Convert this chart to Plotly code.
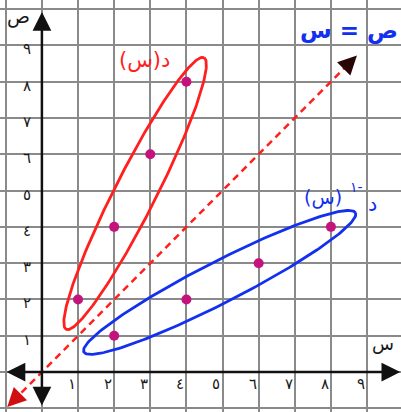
import numpy as np
import plotly.graph_objects as go

# Function d(x) and its inverse
f_x = [1, 2, 3, 4]
f_y = [2, 4, 6, 8]
inv_x = [2, 4, 6, 8]
inv_y = [1, 2, 3, 4]

# Axis ticks (Arabic-Indic digits)
tick_values = [1, 2, 3, 4, 5, 6, 7, 8, 9]
tick_labels = ["١", "٢", "٣", "٤", "٥", "٦", "٧", "٨", "٩"]

X_RANGE = [-1.16, 9.94]
Y_RANGE = [-1.10, 10.25]

AR_FONT = "DejaVu Sans"
RED = "#ff1f1f"
BLUE = "#1230ee"
DOT = "#c4137c"
GRID = "#8a8a8a"


def ellipse(cx, cy, a, b, deg, n=240):
    t = np.linspace(0, 2 * np.pi, n)
    th = np.radians(deg)
    u, v = a * np.cos(t), b * np.sin(t)
    return cx + u * np.cos(th) - v * np.sin(th), cy + u * np.sin(th) + v * np.cos(th)


fig = go.Figure()

# identity line y = x (dashed)
line_x = np.array([-0.8, 8.45])
fig.add_trace(go.Scatter(x=line_x, y=line_x, mode="lines",
                         line=dict(color=RED, width=2.5, dash="7px,5px"),
                         hoverinfo="skip", showlegend=False))

# enclosing ellipses
ex, ey = ellipse(2.58, 4.92, 4.2, 0.57, 63)
fig.add_trace(go.Scatter(x=ex, y=ey, mode="lines", line=dict(color=RED, width=2.8),
                         hoverinfo="skip", showlegend=False))
ex, ey = ellipse(4.92, 2.47, 4.22, 0.57, 27)
fig.add_trace(go.Scatter(x=ex, y=ey, mode="lines", line=dict(color=BLUE, width=2.8),
                         hoverinfo="skip", showlegend=False))

# points of d and d^-1
fig.add_trace(go.Scatter(x=f_x, y=f_y, mode="markers",
                         marker=dict(color=DOT, size=10), showlegend=False))
fig.add_trace(go.Scatter(x=inv_x, y=inv_y, mode="markers",
                         marker=dict(color=DOT, size=10), showlegend=False))

ann = []
# coordinate axes with arrowheads at both ends
ann.append(dict(x=9.92, y=0, ax=-1.02, ay=0, xref="x", yref="y", axref="x", ayref="y",
                text="", showarrow=True, arrowside="end+start", arrowhead=2, startarrowhead=2,
                arrowsize=1.5, startarrowsize=1.5, arrowwidth=2.5, arrowcolor="#111"))
ann.append(dict(x=0, y=9.92, ax=0, ay=-0.96, xref="x", yref="y", axref="x", ayref="y",
                text="", showarrow=True, arrowside="end+start", arrowhead=2, startarrowhead=2,
                arrowsize=1.5, startarrowsize=1.5, arrowwidth=2.5, arrowcolor="#111"))
# arrowheads of the identity line
ann.append(dict(x=8.72, y=8.72, ax=8.4, ay=8.4, xref="x", yref="y", axref="x", ayref="y",
                text="", showarrow=True, arrowhead=2, arrowsize=1.5, arrowwidth=2.5,
                arrowcolor="#2a0505"))
ann.append(dict(x=-0.96, y=-0.96, ax=-0.62, ay=-0.62, xref="x", yref="y", axref="x", ayref="y",
                text="", showarrow=True, arrowhead=2, arrowsize=1.5, arrowwidth=2.5,
                arrowcolor="#d01010"))

# tick labels
for v, lab in zip(tick_values, tick_labels):
    ann.append(dict(x=v - 0.17, y=-0.34, text=lab, showarrow=False,
                    font=dict(family=AR_FONT, size=15, color="#1a1a1a")))
    ann.append(dict(x=-0.42, y=v - 0.11, text=lab, showarrow=False,
                    font=dict(family=AR_FONT, size=15, color="#1a1a1a")))

# axis names
ann.append(dict(x=-0.66, y=9.8, text="ص", showarrow=False,
                font=dict(family=AR_FONT, size=19, color="#1a1a1a")))
ann.append(dict(x=9.45, y=0.8, text="س", showarrow=False,
                font=dict(family=AR_FONT, size=18, color="#1a1a1a")))

# curve labels
ann.append(dict(x=2.85, y=8.6, text="د(س)", showarrow=False,
                font=dict(family=AR_FONT, size=21, color=RED)))
ann.append(dict(x=8.5, y=9.4, text="<b>ص = س</b>", showarrow=False,
                font=dict(family=AR_FONT, size=23, color=BLUE)))
ann.append(dict(x=9.14, y=4.62, text="د", showarrow=False,
                font=dict(family=AR_FONT, size=21, color=BLUE)))
ann.append(dict(x=8.7, y=5.1, text="\u200f-١", showarrow=False,
                font=dict(family=AR_FONT, size=14, color=BLUE)))
ann.append(dict(x=7.78, y=4.82, text="(س)", showarrow=False,
                font=dict(family=AR_FONT, size=19, color=BLUE)))

fig.update_layout(
    width=401, height=412, margin=dict(l=0, r=0, t=0, b=0),
    paper_bgcolor="white", plot_bgcolor="white",
    annotations=ann, showlegend=False,
    xaxis=dict(range=X_RANGE, dtick=1, tick0=0, showgrid=True, gridcolor=GRID, gridwidth=1.7,
               zeroline=False, showticklabels=False, showline=False, fixedrange=True),
    yaxis=dict(range=Y_RANGE, dtick=1, tick0=0, showgrid=True, gridcolor=GRID, gridwidth=1.7,
               zeroline=False, showticklabels=False, showline=False, fixedrange=True),
)

fig.write_html("out.html")
